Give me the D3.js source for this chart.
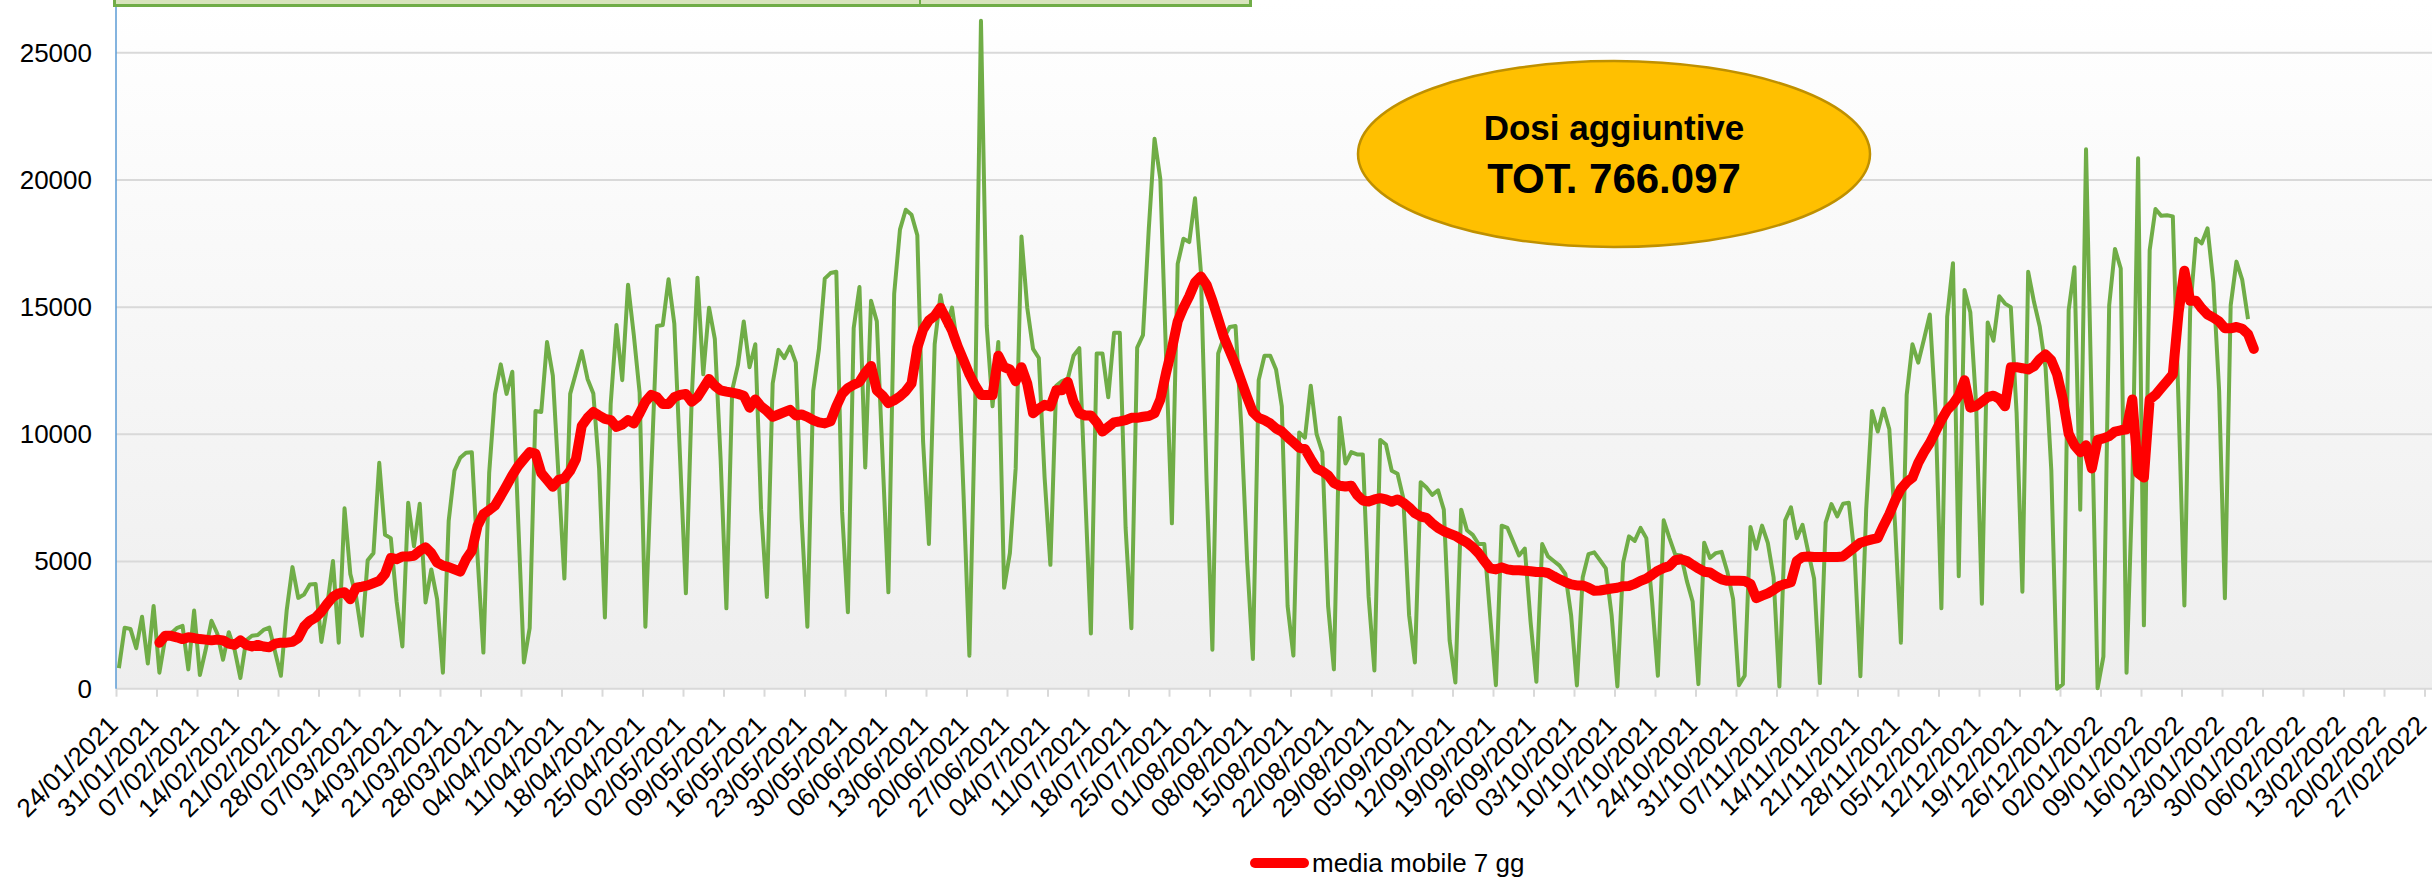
<!DOCTYPE html>
<html>
<head>
<meta charset="utf-8">
<script src="https://cdn.jsdelivr.net/npm/d3@7"></script>
<style>
  body { margin: 0; background: #fff; }
  text { font-family: "Liberation Sans", Arial, sans-serif; }
</style>
</head>
<body>
<div id="chart"></div>
<script>
// daily doses, one value per day starting 24/01/2021
var startDay = Date.UTC(2021, 0, 24);
var endDay = Date.UTC(2022, 1, 27);
var dosiGiornaliere = [
  810, 2400, 2350, 1590, 2830, 990, 3250, 630, 1990, 2170, 2380, 2470, 760, 3070, 540, 1530, 2670, 2170, 1140, 2220,
  1530, 420, 1900, 2080, 2110, 2310, 2400, 1440, 510, 3070, 4780, 3570, 3700, 4100, 4120, 1840, 3250, 5020, 1810, 7090,
  4510, 3610, 2080, 5050, 5330, 8880, 6050, 5920, 3430, 1660, 7310, 5600, 7270, 3390, 4690, 3520, 630, 6590, 8570, 9080,
  9280, 9300, 5140, 1420, 8480, 11570, 12750, 11590, 12460, 6680, 1030, 2380, 10920, 10880, 13630, 12310, 8300, 4330, 11590, 12420,
  13270, 12180, 11610, 8660, 2800, 11190, 14300, 12130, 15880, 13900, 11640, 2440, 8480, 14260, 14300, 16100, 14350, 9030, 3750, 11370,
  16160, 12360, 14980, 13750, 9030, 3160, 11730, 12730, 14440, 12640, 13540, 7040, 3610, 12000, 13320, 13000, 13450, 12820, 6680, 2440,
  11700, 13360, 16120, 16340, 16390, 6950, 3010, 14170, 15790, 8700, 15250, 14440, 9030, 3790, 15520, 18050, 18830, 18630, 17830, 9700,
  5690, 13540, 15470, 14260, 14980, 13360, 7580, 1300, 11190, 26260, 14260, 11100, 13630, 3970, 5330, 8660, 17780, 14980, 13360, 13000,
  8300, 4870, 11910, 12090, 12180, 13090, 13390, 7760, 2170, 13180, 13180, 11460, 13990, 13990, 6320, 2380, 13410, 13900, 18050, 21620,
  20040, 13000, 6500, 16700, 17690, 17560, 19280, 16430, 8120, 1530, 13180, 13810, 14220, 14260, 10290, 5050, 1170, 12130, 13090, 13090,
  12550, 11100, 3250, 1300, 10070, 9870, 11910, 10020, 9300, 3250, 760, 10650, 8850, 9300, 9210, 9210, 3610, 720, 9780, 9600,
  8570, 8450, 7490, 2890, 1030, 8120, 7910, 7620, 7800, 7040, 1900, 240, 7040, 6230, 6050, 5690, 5690, 2890, 140, 6410,
  6320, 5780, 5240, 5510, 2620, 270, 5690, 5200, 5020, 4840, 4510, 2890, 130, 4370, 5290, 5360, 5050, 4730, 2890, 90,
  4960, 5990, 5810, 6320, 5920, 3430, 510, 6620, 5920, 5270, 5240, 4240, 3430, 180, 5740, 5140, 5330, 5380, 4600, 3520,
  140, 510, 6360, 5500, 6410, 5730, 4370, 90, 6620, 7130, 5920, 6440, 5360, 4330, 220, 6530, 7260, 6770, 7270, 7310,
  5240, 490, 7040, 10920, 10110, 11010, 10200, 6410, 1810, 11550, 13540, 12820, 13750, 14710, 10830, 3160, 14620, 16730, 4420, 15670,
  14800, 11190, 3340, 14400, 13680, 15430, 15140, 15000, 10830, 3810, 16390, 15210, 14240, 12640, 8570, 0, 180, 14890, 16570, 7040,
  21210, 10830, 20, 1260, 15070, 17290, 16520, 630, 7900, 20850, 2490, 17240, 18860, 18590, 18610, 18570, 11100, 3270, 14890, 17690,
  17510, 18100, 15970, 11730, 3560, 15070, 16790, 16070, 14530
];

// 7-day moving average, first value on day 7 (31/01/2021)
var mediaMobileStart = 7;
var mediaMobile = [
  1810, 2080, 2080, 2020, 1950, 2020, 1990, 1950, 1930, 1900, 1930, 1900, 1770, 1720, 1900, 1720, 1660, 1720, 1660, 1630,
  1770, 1810, 1810, 1840, 1990, 2440, 2670, 2800, 3030, 3340, 3610, 3750, 3790, 3520, 3970, 4010, 4060, 4150, 4240, 4510,
  5140, 5090, 5200, 5200, 5230, 5420, 5560, 5330, 4960, 4840, 4780, 4690, 4600, 5090, 5420, 6410, 6860, 7020, 7200, 7580,
  7980, 8390, 8750, 9030, 9300, 9240, 8480, 8210, 7940, 8210, 8270, 8570, 9030, 10330, 10650, 10880, 10740, 10610, 10560, 10290,
  10380, 10560, 10430, 10830, 11280, 11550, 11460, 11190, 11190, 11460, 11550, 11590, 11280, 11460, 11820, 12180, 11910, 11730, 11680, 11640,
  11590, 11520, 11050, 11370, 11100, 10920, 10690, 10780, 10870, 10960, 10740, 10780, 10690, 10560, 10470, 10430, 10510, 11100, 11590, 11820,
  11950, 12060, 12420, 12690, 11730, 11520, 11230, 11340, 11490, 11700, 12000, 13400, 14120, 14480, 14660, 14980, 14530, 14080, 13450, 12910,
  12360, 11910, 11550, 11550, 11550, 13090, 12640, 12550, 12090, 12640, 12000, 10830, 11010, 11160, 11100, 11730, 11730, 12060, 11280, 10830,
  10740, 10740, 10470, 10110, 10290, 10470, 10510, 10560, 10650, 10650, 10690, 10720, 10830, 11370, 12420, 13360, 14440, 14980, 15430, 15970,
  16210, 15880, 15250, 14530, 13810, 13270, 12730, 12090, 11460, 10870, 10650, 10560, 10430, 10230, 10110, 9890, 9690, 9480, 9420, 9030,
  8660, 8550, 8390, 8090, 7980, 7950, 7980, 7620, 7400, 7360, 7440, 7490, 7440, 7350, 7440, 7310, 7130, 6900, 6770, 6720,
  6500, 6320, 6190, 6100, 6010, 5870, 5740, 5560, 5330, 5020, 4730, 4690, 4770, 4690, 4660, 4660, 4640, 4620, 4590, 4590,
  4550, 4420, 4300, 4190, 4100, 4060, 4060, 3970, 3850, 3860, 3900, 3940, 3970, 4030, 4040, 4120, 4240, 4330, 4480, 4640,
  4750, 4820, 5050, 5090, 5020, 4870, 4730, 4600, 4570, 4420, 4300, 4240, 4240, 4240, 4230, 4120, 3560, 3660, 3750, 3880,
  4040, 4120, 4190, 5020, 5180, 5200, 5180, 5180, 5180, 5180, 5180, 5200, 5380, 5560, 5740, 5810, 5870, 5920, 6410, 6860,
  7400, 7850, 8120, 8300, 8880, 9300, 9660, 10110, 10560, 10960, 11190, 11520, 12130, 11050, 11120, 11280, 11460, 11520, 11400, 11100,
  12640, 12640, 12600, 12550, 12670, 12960, 13140, 12910, 12360, 11370, 10020, 9570, 9300, 9570, 8660, 9780, 9840, 9930, 10110, 10160,
  10200, 11370, 8480, 8300, 11370, 11550, 11820, 12090, 12360, 14800, 16430, 15250, 15250, 14950, 14710, 14590, 14440, 14170, 14170, 14220,
  14150, 13940, 13360
];

var yTicks = [0, 5000, 10000, 15000, 20000, 25000];
var legendLabel = "media mobile 7 gg";
var noteLines = ["Dosi aggiuntive", "TOT. 766.097"];

var width = 2432, height = 877;
var margin = {top: 0, right: 0, bottom: 188, left: 116};
var DAY = 86400000;

var svg = d3.select("#chart")
    .append("svg")
    .attr("width", width)
    .attr("height", height);

var x = d3.scaleUtc()
    .domain([startDay, endDay])
    .range([margin.left, 2424.5]);

var y = d3.scaleLinear()
    .domain([0, 25000])
    .range([688.7, 52.8]);

// middle of day i
var dayX = function(i) { return x(startDay + (i + 0.5) * DAY); };

// plot area background
var grad = svg.append("defs").append("linearGradient")
    .attr("id", "bg")
    .attr("x1", 0).attr("y1", 0).attr("x2", 0).attr("y2", 1);
grad.append("stop").attr("offset", "0%").attr("stop-color", "#ffffff");
grad.append("stop").attr("offset", "100%").attr("stop-color", "#eeeeee");

svg.append("rect")
    .attr("x", margin.left)
    .attr("y", 0)
    .attr("width", width - margin.left)
    .attr("height", y(0))
    .style("fill", "url(#bg)");

// gridlines
svg.append("g")
    .selectAll("line")
    .data(yTicks.slice(1))
    .enter()
    .append("line")
    .attr("x1", margin.left)
    .attr("x2", width)
    .attr("y1", function(d) { return y(d); })
    .attr("y2", function(d) { return y(d); })
    .style("stroke", "#d9d9d9")
    .style("stroke-width", 2);

// x axis
var xAxis = svg.append("g")
    .attr("transform", `translate(0, ${y(0)})`)
    .call(d3.axisBottom(x)
        .ticks(d3.utcSunday.every(1))
        .tickFormat(d3.utcFormat("%d/%m/%Y"))
        .tickSize(8)
        .tickSizeOuter(0));
xAxis.select(".domain")
    .attr("d", `M${margin.left},0H${width}`)
    .style("stroke", "#d9d9d9")
    .style("stroke-width", 2);
xAxis.selectAll(".tick line")
    .style("stroke", "#d9d9d9")
    .style("stroke-width", 2);
xAxis.selectAll(".tick text")
    .attr("x", 0)
    .attr("y", 0)
    .attr("dy", null)
    .attr("transform", "translate(3, 38) rotate(-45)")
    .style("text-anchor", "end")
    .style("font-size", "26px")
    .style("fill", "#000");

// y axis
var yAxis = svg.append("g")
    .attr("transform", `translate(${margin.left}, 0)`)
    .call(d3.axisLeft(y)
        .tickValues(yTicks)
        .tickSize(0)
        .tickPadding(24)
        .tickFormat(d3.format("d")));
yAxis.select(".domain")
    .attr("d", `M0,0V${y(0)}`)
    .style("stroke", "#5b9bd5")
    .style("stroke-width", 1.5);
yAxis.selectAll(".tick text")
    .style("font-size", "26px")
    .style("fill", "#000");

// daily doses
var lineDaily = d3.line()
    .x(function(d, i) { return dayX(i); })
    .y(function(d) { return y(d); });

svg.append("path")
    .datum(dosiGiornaliere)
    .attr("d", lineDaily)
    .style("fill", "none")
    .style("stroke", "#70ad47")
    .style("stroke-width", 4)
    .style("stroke-linejoin", "round");

// moving average
var lineAvg = d3.line()
    .x(function(d, i) { return dayX(i + mediaMobileStart); })
    .y(function(d) { return y(d); });

svg.append("path")
    .datum(mediaMobile)
    .attr("d", lineAvg)
    .style("fill", "none")
    .style("stroke", "#ff0000")
    .style("stroke-width", 10)
    .style("stroke-linejoin", "round")
    .style("stroke-linecap", "round");

// table stub at the top (cut off)
var box = svg.append("g");
box.append("rect")
    .attr("x", 114.5)
    .attr("y", -30)
    .attr("width", 1136)
    .attr("height", 35.5)
    .style("fill", "#d8e4bc")
    .style("stroke", "#70ad47")
    .style("stroke-width", 3);
box.append("line")
    .attr("x1", 920).attr("x2", 920)
    .attr("y1", -30).attr("y2", 5)
    .style("stroke", "#70ad47")
    .style("stroke-width", 2);

// note ellipse
var note = svg.append("g").attr("transform", "translate(1614, 154)");
note.append("ellipse")
    .attr("rx", 256)
    .attr("ry", 93)
    .style("fill", "#ffc000")
    .style("stroke", "#bf9000")
    .style("stroke-width", 2.5);
note.append("text")
    .attr("y", -14)
    .attr("text-anchor", "middle")
    .style("font-size", "35px")
    .style("font-weight", "bold")
    .text(noteLines[0]);
note.append("text")
    .attr("y", 39)
    .attr("text-anchor", "middle")
    .style("font-size", "42px")
    .style("font-weight", "bold")
    .text(noteLines[1]);

// legend
var legend = svg.append("g").attr("transform", "translate(1255, 863)");
legend.append("line")
    .attr("x1", 0).attr("x2", 49)
    .style("stroke", "#ff0000")
    .style("stroke-width", 10)
    .style("stroke-linecap", "round");
legend.append("text")
    .attr("x", 57)
    .attr("y", 9)
    .style("font-size", "26px")
    .style("fill", "#000")
    .text(legendLabel);
</script>
</body>
</html>
